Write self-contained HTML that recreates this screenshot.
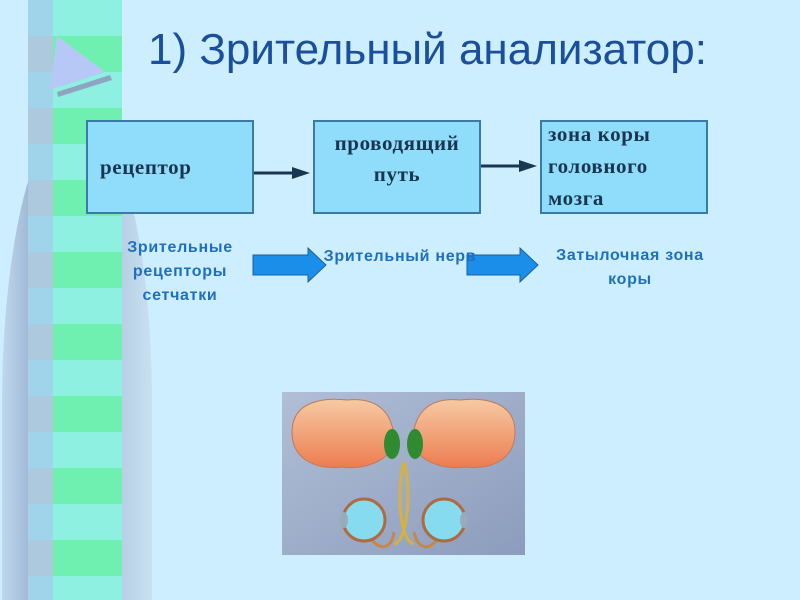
<!DOCTYPE html>
<html><head><meta charset="utf-8"><style>
html,body{margin:0;width:800px;height:600px;overflow:hidden}
body{background:#cdeefe;position:relative;font-family:"Liberation Sans",sans-serif}
.a{position:absolute}
.box{position:absolute;background:#8fdcfb;border:2px solid #3a7aa8;box-sizing:border-box;font-family:"Liberation Serif",serif;font-weight:bold;color:#1a3550;font-size:21px;letter-spacing:0.6px;overflow:hidden}
.lbl{position:absolute;color:#1f6fc0;font-weight:bold;font-size:16px;letter-spacing:0.7px;text-align:center;line-height:24px}
</style></head><body>
<div class="a" style="left:2px;top:110px;width:150px;height:490px;border-radius:50% 50% 50% 50% / 60% 60% 0 0;background:linear-gradient(90deg,#c0d8ee,#8aa4c4 30%,#a8c0da 60%,#c8e0f0)"></div>
<div class="a" style="left:28px;top:0;width:94px;height:600px;background:repeating-linear-gradient(180deg,#8ef0e0 0 36px,#6ff0b0 36px 72px),#8ef0e0"></div>
<div class="a" style="left:28px;top:0;width:25px;height:600px;background:repeating-linear-gradient(180deg,#a8c8f0 0 36px,#c8b8f0 36px 72px);opacity:.7"></div>
<svg class="a" style="left:0;top:0" width="800" height="600">
<polygon points="57,36 105,72 50,90" fill="#b8c8f6"/>
<polygon points="57,92 110,75 112,80 58,97" fill="#8ea4c0"/>
<line x1="253" y1="173" x2="300" y2="173" stroke="#1a3550" stroke-width="3"/>
<polygon points="292,167 310,173 292,179" fill="#1a3550"/>
<line x1="480" y1="166" x2="527" y2="166" stroke="#1a3550" stroke-width="3"/>
<polygon points="519,160 537,166 519,172" fill="#1a3550"/>
<polygon points="253,255 308,255 308,248 326,265 308,282 308,275 253,275" fill="#1a8ee8" stroke="#1a60a0" stroke-width="1"/>
<polygon points="467,255 520,255 520,248 538,265 520,282 520,275 467,275" fill="#1a8ee8" stroke="#1a60a0" stroke-width="1"/>
</svg>
<div class="a" style="left:148px;top:25px;font-size:44px;color:#1a4f9e;white-space:nowrap">1) Зрительный анализатор:</div>
<div class="box" style="left:86px;top:120px;width:168px;height:94px;padding:33px 0 0 12px">рецептор</div>
<div class="box" style="left:313px;top:120px;width:168px;height:94px;text-align:center;line-height:31px;padding-top:6px;white-space:nowrap">проводящий<br>путь</div>
<div class="box" style="left:540px;top:120px;width:168px;height:94px;line-height:32px;padding:0 0 0 6px;white-space:nowrap"><div style="margin-top:-4px">зона коры<br>головного<br>мозга</div></div>
<div class="lbl" style="left:100px;top:236px;width:160px">Зрительные<br>рецепторы<br>сетчатки</div>
<div class="lbl" style="left:300px;top:245px;width:200px;white-space:nowrap">Зрительный нерв</div>
<div class="lbl" style="left:535px;top:244px;width:190px">Затылочная зона<br>коры</div>
<svg class="a" style="left:282px;top:392px" width="243" height="163">
<defs><linearGradient id="g" x1="0" y1="0" x2="1" y2="1"><stop offset="0" stop-color="#b0bed6"/><stop offset="1" stop-color="#8c9cbc"/></linearGradient>
<linearGradient id="b" x1="0" y1="0" x2="0" y2="1"><stop offset="0" stop-color="#f6caa4"/><stop offset="1" stop-color="#ee7c50"/></linearGradient></defs>
<rect width="243" height="163" fill="url(#g)"/>
<path d="M10,40 C10,10 40,5 65,8 C95,5 110,20 112,45 C112,70 80,78 60,75 C30,78 10,65 10,40Z" fill="url(#b)" stroke="#c07a5a"/>
<path d="M233,40 C233,10 203,5 178,8 C148,5 133,20 131,45 C131,70 163,78 183,75 C213,78 233,65 233,40Z" fill="url(#b)" stroke="#c07a5a"/>
<ellipse cx="110" cy="52" rx="8" ry="15" fill="#2f8a30"/>
<ellipse cx="133" cy="52" rx="8" ry="15" fill="#2f8a30"/>
<path d="M112,152 C125,150 130,100 122,70 M132,152 C118,150 114,100 122,70" stroke="#d8b040" stroke-width="3" fill="none"/>
<path d="M90,148 C100,160 110,155 112,140 M155,148 C145,160 135,155 132,140" stroke="#c8864a" stroke-width="3" fill="none"/>
<circle cx="82" cy="128" r="21" fill="#86dcee" stroke="#b06a40" stroke-width="3"/>
<circle cx="162" cy="128" r="21" fill="#86dcee" stroke="#b06a40" stroke-width="3"/>
<ellipse cx="62" cy="128" rx="4" ry="8" fill="#9ab"/>
<ellipse cx="182" cy="128" rx="4" ry="8" fill="#9ab"/>
</svg>
</body></html>
